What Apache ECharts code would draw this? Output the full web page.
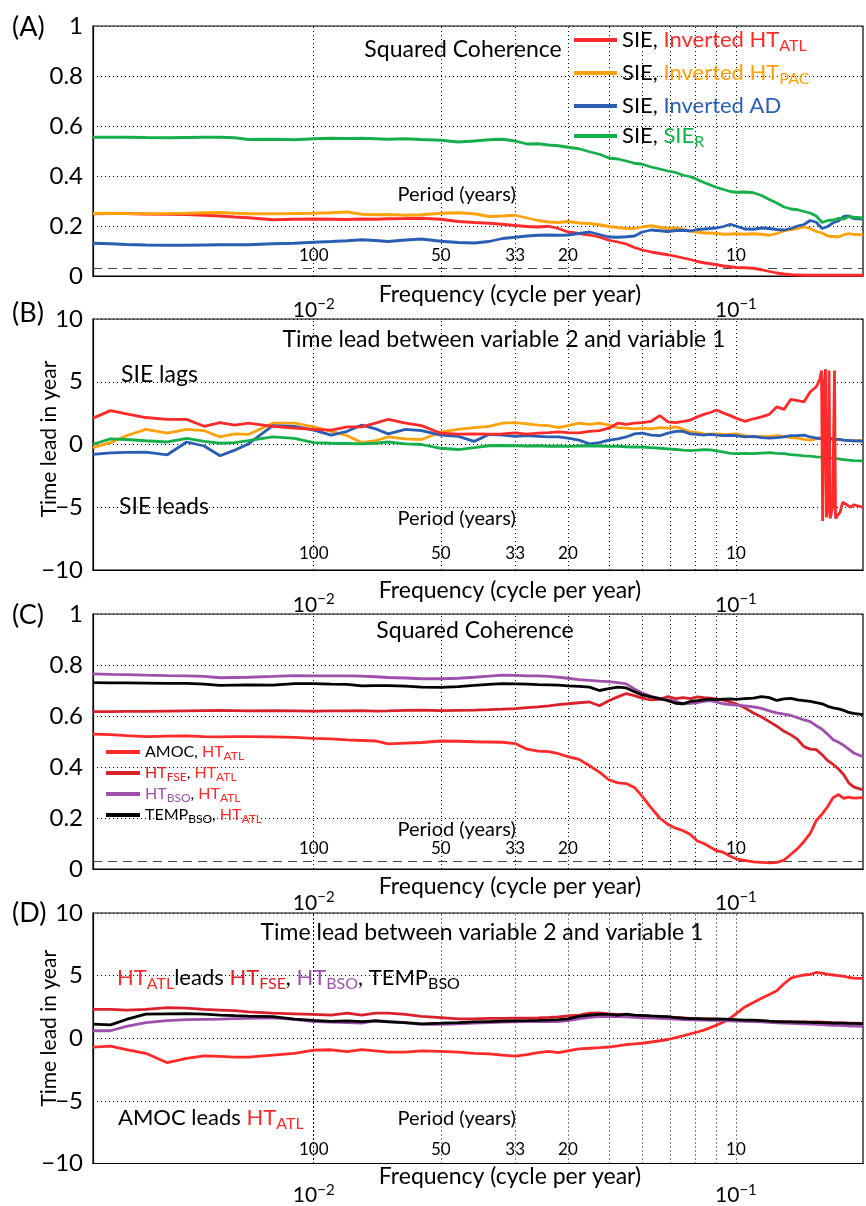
<!DOCTYPE html>
<html>
<head>
<meta charset="utf-8">
<script src="https://cdn.jsdelivr.net/npm/echarts@6/dist/echarts.min.js"></script>
<style>
html, body { margin: 0; padding: 0; background: #fff; }
#main { width: 866px; height: 1206px; }
</style>
</head>
<body>
<div id="main"></div>
<script>
// frequency (cycle per year), shared by all panels
var freq = [
  0.0030, 0.0033, 0.0036, 0.0040, 0.0045, 0.0050, 0.0055, 0.0060, 0.0065, 0.0070,
  0.0080, 0.0090, 0.0100, 0.0110, 0.0120, 0.0130, 0.0140, 0.0150, 0.0165, 0.0180,
  0.0200, 0.0220, 0.0240, 0.0260, 0.0280, 0.0300, 0.0320, 0.0340, 0.0360, 0.0380,
  0.0400, 0.0425, 0.0450, 0.0475, 0.0500, 0.0525, 0.0550, 0.0575, 0.0600, 0.0630,
  0.0660, 0.0690, 0.0720, 0.0750, 0.0780, 0.0810, 0.0840, 0.0870, 0.0900, 0.0935,
  0.0970, 0.1000, 0.1050, 0.1100, 0.1150, 0.1200, 0.1250, 0.1300, 0.1350, 0.1400,
  0.1450, 0.1500, 0.1550, 0.1600, 0.1650, 0.1700, 0.1750, 0.1800, 0.1850, 0.1900,
  0.2000
];

// (A) squared coherence
var cohHtAtl = [
  .249, .250, .250, .248, .247, .246, .243, .240, .236, .233,
  .225, .227, .228, .227, .226, .228, .227, .229, .230, .231,
  .227, .218, .214, .211, .207, .202, .198, .196, .199, .190,
  .176, .170, .164, .156, .143, .136, .128, .114, .104, .096,
  .090, .085, .079, .072, .066, .058, .053, .049, .045, .040,
  .037, .034, .033, .031, .025, .018, .012, .008, .005, .004,
  .003, .003, .003, .003, .003, .003, .003, .003, .003, .003,
  .003
];
var cohHtPac = [
  .250, .251, .250, .249, .250, .251, .253, .254, .251, .249,
  .249, .250, .251, .253, .256, .247, .245, .246, .243, .245,
  .251, .253, .249, .238, .240, .243, .232, .222, .216, .214,
  .218, .212, .210, .205, .198, .194, .190, .190, .196, .201,
  .195, .190, .192, .187, .180, .176, .172, .172, .170, .167,
  .168, .169, .167, .169, .167, .163, .170, .180, .186, .190,
  .196, .190, .178, .172, .160, .158, .156, .165, .170, .166,
  .165
];
var cohAd = [
  .131, .129, .126, .124, .123, .123, .124, .125, .125, .125,
  .129, .131, .135, .138, .141, .145, .142, .138, .144, .148,
  .139, .134, .132, .138, .150, .155, .160, .163, .164, .163,
  .164, .170, .176, .166, .156, .155, .157, .160, .176, .184,
  .181, .178, .182, .183, .180, .186, .188, .190, .192, .198,
  .207, .200, .188, .187, .192, .190, .186, .184, .190, .200,
  .206, .222, .215, .190, .198, .213, .220, .238, .240, .230,
  .228
];
var cohSieR = [
  .555, .555, .555, .554, .553, .554, .555, .555, .553, .546,
  .547, .545, .549, .551, .550, .551, .549, .547, .549, .546,
  .543, .536, .540, .545, .547, .540, .528, .529, .524, .521,
  .515, .509, .497, .487, .472, .468, .460, .451, .447, .436,
  .428, .420, .414, .403, .397, .386, .374, .364, .354, .346,
  .338, .335, .336, .333, .322, .306, .292, .276, .268, .265,
  .258, .252, .240, .214, .222, .224, .231, .228, .238, .235,
  .232
];

// (B) time lead, years
var leadHtAtl = [
  2.1, 2.7, 2.45, 2.15, 2.0, 2.0, 1.45, 1.75, 1.55, 1.7,
  1.45, 1.3, 1.2, 1.15, 1.4, 1.4, 1.7, 2.0, 1.7, 1.5,
  0.9, 0.82, 0.84, 0.82, 0.85, 0.92, 0.82, 0.9, 0.95, 1.0,
  0.95, 0.92, 1.05, 1.1, 1.3, 1.7, 1.6, 1.7, 1.75, 1.85,
  2.3, 1.8, 1.75, 1.85, 1.95, 2.2, 2.4, 2.55, 2.75, 2.5,
  2.3, 2.1, 1.85, 2.05, 2.2, 2.4, 3.0, 2.8, 3.6, 3.5,
  3.4, 4.2, 4.6
];
// phase wrapping at the high-frequency end
var leadHtAtlTailFreq = [0.158, 0.1595, 0.1605, 0.1618, 0.163, 0.1638, 0.1652, 0.1662, 0.1672, 0.1695,
  0.1712, 0.1722, 0.1745, 0.1765, 0.179, 0.183, 0.187, 0.19, 0.2];
var leadHtAtlTail = [5.2, 5.9, -6.1, 4.8, 6.0, -5.8, -5.0, 5.9, -5.9, -5.0,
  5.9, -5.9, -5.6, -5.4, -4.6, -4.8, -5.0, -4.8, -5.0];
var leadHtPac = [
  -0.25, 0.15, 0.7, 1.2, 0.9, 1.2, 1.1, 0.6, 0.85, 0.8,
  1.7, 1.7, 1.4, 1.05, 0.7, 0.15, 0.3, 0.6, 0.45, 0.4,
  1.0, 1.2, 1.35, 1.45, 1.7, 1.75, 1.65, 1.55, 1.5, 1.35,
  1.5, 1.7, 1.6, 1.7, 1.55, 1.35, 1.3, 1.25, 1.3, 1.25,
  1.35, 1.3, 1.4, 1.2, 1.0, 0.95, 0.85, 0.82, 0.85, 0.8,
  0.82, 0.85, 0.7, 0.6, 0.65, 0.62, 0.7, 0.65, 0.55, 0.5,
  0.4, 0.35, 0.45, 0.5, 0.45, 0.4, 0.4, 0.35, 0.32, 0.3,
  0.3
];
var leadAd = [
  -0.78, -0.67, -0.62, -0.6, -0.82, 0.2, -0.12, -0.9, -0.45, 0.05,
  1.5, 1.45, 1.15, 0.75, 1.05, 1.55, 1.25, 0.85, 1.2, 1.1,
  0.75, 0.65, 0.25, 0.8, 0.75, 0.65, 0.7, 0.65, 0.6, 0.6,
  0.5, 0.35, 0.05, 0.15, 0.35, 0.45, 0.6, 0.85, 0.9, 0.75,
  0.7, 0.9, 1.05, 1.05, 0.85, 0.8, 0.75, 0.8, 0.75, 0.7,
  0.72, 0.7, 0.6, 0.65, 0.55, 0.5, 0.55, 0.6, 0.7, 0.7,
  0.75, 0.6, 0.5, 0.5, 0.5, 0.45, 0.4, 0.35, 0.32, 0.3,
  0.28
];
var leadSieR = [
  0.02, 0.45, 0.4, 0.3, 0.2, 0.48, 0.25, 0.1, 0.15, 0.3,
  0.6, 0.48, 0.15, 0.1, 0.08, 0.05, 0.1, 0.2, 0.05, 0.0,
  -0.3, -0.4, -0.25, -0.1, -0.08, -0.1, -0.12, -0.1, -0.14, -0.12,
  -0.15, -0.12, -0.1, -0.12, -0.15, -0.14, -0.18, -0.2, -0.2, -0.25,
  -0.3, -0.35, -0.4, -0.45, -0.48, -0.45, -0.42, -0.43, -0.5, -0.6,
  -0.7, -0.72, -0.7, -0.72, -0.68, -0.65, -0.7, -0.72, -0.8, -0.85,
  -0.9, -0.92, -0.98, -1.0, -1.05, -1.1, -1.15, -1.2, -1.25, -1.28,
  -1.3
];

// (C) squared coherence with HT_ATL
var cohAmoc = [
  .529, .527, .523, .519, .521, .522, .519, .518, .519, .519,
  .518, .516, .512, .510, .506, .504, .502, .491, .494, .496,
  .502, .501, .499, .498, .497, .492, .470, .462, .460, .452,
  .441, .430, .405, .380, .350, .338, .335, .320, .285, .240,
  .200, .175, .160, .150, .135, .110, .100, .085, .072, .065,
  .050, .040, .034, .028, .026, .024, .026, .035, .058, .080,
  .108, .140, .190, .215, .245, .280, .292, .277, .282, .278,
  .280
];
var cohFse = [
  .617, .617, .618, .618, .619, .620, .621, .622, .621, .620,
  .621, .620, .619, .620, .620, .621, .619, .620, .622, .623,
  .621, .622, .623, .625, .627, .629, .633, .636, .640, .645,
  .648, .652, .655, .640, .660, .675, .688, .680, .670, .663,
  .665, .676, .668, .672, .668, .675, .672, .670, .667, .662,
  .655, .648, .632, .612, .596, .578, .560, .540, .526, .508,
  .480, .470, .468, .448, .425, .410, .392, .370, .338, .322,
  .310
];
var cohBso = [
  .765, .763, .762, .760, .758, .757, .755, .750, .751, .752,
  .755, .758, .757, .757, .757, .756, .754, .751, .749, .746,
  .746, .748, .752, .756, .760, .759, .757, .757, .755, .752,
  .748, .743, .740, .737, .735, .731, .726, .706, .690, .677,
  .668, .663, .658, .648, .650, .652, .657, .660, .654, .648,
  .645, .643, .640, .636, .630, .620, .612, .607, .602, .593,
  .585, .578, .562, .548, .528, .507, .497, .485, .470, .455,
  .440
];
var cohTemp = [
  .731, .730, .730, .729, .728, .728, .725, .720, .721, .722,
  .721, .727, .727, .725, .724, .718, .719, .719, .717, .713,
  .712, .715, .720, .724, .727, .726, .725, .723, .722, .721,
  .718, .716, .713, .700, .707, .713, .710, .695, .683, .675,
  .668, .660, .650, .648, .657, .660, .663, .666, .664, .666,
  .667, .665, .668, .670, .676, .672, .661, .667, .669, .663,
  .660, .657, .652, .648, .638, .632, .628, .622, .614, .610,
  .605
];

// (D) time lead with HT_ATL
var leadAmoc = [
  -0.71, -0.63, -0.9, -1.2, -1.95, -1.6, -1.4, -1.45, -1.5, -1.5,
  -1.35, -1.2, -0.95, -0.92, -1.06, -0.9, -1.0, -1.1, -1.1, -1.0,
  -1.05, -1.1, -1.2, -1.24, -1.35, -1.42, -1.3, -1.15, -1.05, -1.15,
  -1.0, -0.85, -0.8, -0.75, -0.7, -0.6, -0.5, -0.45, -0.4, -0.3,
  -0.2, -0.1, 0.05, 0.2, 0.35, 0.5, 0.65, 0.85, 1.05, 1.3,
  1.6, 1.95, 2.5, 2.85, 3.2, 3.5, 3.8, 4.35, 4.8, 4.95,
  5.05, 5.1, 5.25, 5.2, 5.1, 5.05, 5.0, 4.95, 4.85, 4.8,
  4.78
];
var leadFse = [
  2.3, 2.3, 2.25, 2.3, 2.45, 2.4, 2.3, 2.25, 2.2, 2.1,
  2.0, 1.95, 1.9, 1.85, 2.0, 1.85, 2.0, 2.0, 1.9, 1.75,
  1.65, 1.55, 1.55, 1.58, 1.58, 1.6, 1.6, 1.62, 1.66, 1.7,
  1.78, 1.85, 2.0, 2.02, 1.95, 1.9, 1.85, 1.8, 1.78, 1.75,
  1.72, 1.68, 1.66, 1.62, 1.58, 1.56, 1.55, 1.54, 1.52, 1.5,
  1.48, 1.45, 1.43, 1.4, 1.38, 1.35, 1.33, 1.32, 1.31, 1.3,
  1.3, 1.28, 1.3, 1.28, 1.26, 1.24, 1.23, 1.22, 1.2, 1.2,
  1.18
];
var leadBso = [
  0.6, 0.6, 0.95, 1.25, 1.4, 1.48, 1.5, 1.52, 1.56, 1.58,
  1.62, 1.5, 1.32, 1.28, 1.25, 1.21, 1.4, 1.35, 1.22, 1.1,
  1.1, 1.15, 1.2, 1.24, 1.28, 1.3, 1.32, 1.32, 1.33, 1.32,
  1.4, 1.55, 1.66, 1.72, 1.74, 1.72, 1.7, 1.66, 1.62, 1.6,
  1.58, 1.55, 1.52, 1.48, 1.46, 1.45, 1.44, 1.43, 1.42, 1.4,
  1.38, 1.36, 1.34, 1.32, 1.3, 1.26, 1.22, 1.2, 1.18, 1.16,
  1.14, 1.12, 1.1, 1.08, 1.05, 1.03, 1.02, 1.0, 0.98, 0.97,
  0.96
];
var leadTemp = [
  1.13, 1.07, 1.5, 1.92, 1.95, 1.96, 1.92, 1.85, 1.8, 1.76,
  1.72, 1.52, 1.42, 1.35, 1.38, 1.32, 1.38, 1.3, 1.25, 1.15,
  1.2, 1.25, 1.3, 1.33, 1.36, 1.38, 1.4, 1.42, 1.45, 1.48,
  1.55, 1.75, 1.85, 1.9, 1.9, 1.85, 1.92, 1.85, 1.82, 1.78,
  1.75, 1.72, 1.65, 1.6, 1.57, 1.56, 1.55, 1.53, 1.55, 1.53,
  1.5, 1.48, 1.45, 1.44, 1.4, 1.36, 1.33, 1.3, 1.3, 1.29,
  1.28, 1.27, 1.25, 1.24, 1.22, 1.2, 1.2, 1.2, 1.19, 1.18,
  1.17
];

// grid lines and period labels
var gridFreq = [0.004, 0.005, 0.006, 0.007, 0.008, 0.009, 0.01, 0.02, 0.03, 0.04, 0.05, 0.06, 0.07, 0.08, 0.09, 0.1];
var periodFreq = [0.01, 0.02, 0.03, 0.04, 0.1];
var periodText = ['100', '50', '33', '20', '10'];
var periodY = [0.08, -8.7, 0.08, -8.87];
var periodTitleY = [0.324, -5.9, 0.154, -6.4];
var cohLevel = 0.027;

var FONT = 'Lato';
var RED = '#ff2a2a', ORANGE = '#ffa10a', BLUE = '#2a5eb2', GREEN = '#14af4a';
var DRED = '#d8212b', PURPLE = '#9f50ad', BLACK = '#000';

function pairs(xs, ys) {
  return xs.map(function (x, i) { return [x, ys[i]]; });
}

// rich text styles: main / subscript for each colour; colourKey is 'color' for
// component labels and 'fill' for graphic elements
function rich(size, sub, lh, slh, colourKey) {
  var s = {};
  var cols = { k: BLACK, r: RED, o: ORANGE, b: BLUE, g: GREEN, d: DRED, p: PURPLE };
  Object.keys(cols).forEach(function (key) {
    s[key] = { fontSize: size, fontFamily: FONT, lineHeight: lh };
    s[key + 's'] = { fontSize: sub, fontFamily: FONT, lineHeight: slh, verticalAlign: 'bottom' };
    s[key][colourKey] = cols[key];
    s[key + 's'][colourKey] = cols[key];
  });
  return s;
}

var legendA = {
  'SIE, Inverted HT_ATL': '{k|SIE, }{r|Inverted HT}{rs|ATL}',
  'SIE, Inverted HT_PAC': '{k|SIE, }{o|Inverted HT}{os|PAC}',
  'SIE, Inverted AD': '{k|SIE, }{b|Inverted AD}',
  'SIE, SIE_R': '{k|SIE, }{g|SIE}{gs|R}'
};
var legendC = {
  'AMOC, HT_ATL': '{k|AMOC, }{r|HT}{rs|ATL}',
  'HT_FSE, HT_ATL': '{d|HT}{ds|FSE}{k|, }{r|HT}{rs|ATL}',
  'HT_BSO, HT_ATL': '{p|HT}{ps|BSO}{k|, }{r|HT}{rs|ATL}',
  'TEMP_BSO, HT_ATL': '{k|TEMP}{ks|BSO}{k|, }{r|HT}{rs|ATL}'
};

var grids = [
  { left: 93, top: 26, width: 785, height: 250 },
  { left: 93, top: 319, width: 785, height: 251 },
  { left: 93, top: 614, width: 785, height: 255 },
  { left: 93, top: 913, width: 785, height: 254 }
];
grids.forEach(function (g) {
  g.show = true; g.borderColor = '#000'; g.borderWidth = 1.2; g.backgroundColor = 'transparent';
});

var nameGaps = [7, 9, 6, 2];
var labelMargins = [21, 22, 21, 19];

var xAxes = grids.map(function (g, i) {
  return {
    type: 'log', logBase: 10, gridIndex: i, min: 0.003, max: 0.2,
    name: 'Frequency (cycle per year)', nameLocation: 'middle', nameGap: nameGaps[i],
    nameMoveOverlap: false,
    nameTextStyle: { fontFamily: FONT, fontSize: 23, color: '#000', padding: [0, 0, 0, 64] },
    axisLine: { onZero: false, lineStyle: { color: '#000', width: 1.2 } },
    axisTick: { show: false },
    splitLine: { show: false },
    minorTick: { show: false },
    axisLabel: {
      margin: labelMargins[i],
      showMinLabel: true, showMaxLabel: true,
      formatter: function (v) {
        var e = Math.log10(v);
        if (Math.abs(e + 2) < 1e-6) return '{b|10}{s|\u22122}';
        if (Math.abs(e + 1) < 1e-6) return '{b|10}{s|\u22121}';
        return '';
      },
      rich: {
        b: { fontFamily: FONT, fontSize: 21, lineHeight: 26, color: '#000' },
        s: { fontFamily: FONT, fontSize: 15, lineHeight: 14, color: '#000', verticalAlign: 'top' }
      }
    }
  };
});

var dotted = { color: '#000', type: [1, 3], width: 1 };

var yAxes = grids.map(function (g, i) {
  var coh = (i % 2 === 0);
  var ax = {
    type: 'value', gridIndex: i,
    min: coh ? 0 : -10, max: coh ? 1 : 10, interval: coh ? 0.2 : 5,
    axisLine: { show: true, onZero: false, lineStyle: { color: '#000', width: 1.2 } },
    axisTick: { show: false },
    splitLine: { show: true, lineStyle: dotted },
    axisLabel: {
      fontFamily: FONT, fontSize: 24, color: '#000', margin: 10,
      formatter: function (v) { return String(v).replace('-', '\u2212'); }
    }
  };
  if (!coh) {
    ax.name = 'Time lead in year';
    ax.nameLocation = 'middle';
    ax.nameRotate = 90;
    ax.nameGap = 33;
    ax.nameMoveOverlap = false;
    ax.nameTextStyle = { fontFamily: FONT, fontSize: 21, color: '#000', padding: [0, 0, 0, i === 1 ? 11 : 20] };
  }
  return ax;
});

function line(name, color, xs, ys, g) {
  return {
    name: name, type: 'line', xAxisIndex: g, yAxisIndex: g,
    data: pairs(xs, ys), showSymbol: false, symbol: 'none', silent: true, z: 3,
    lineStyle: { color: color, width: 2.8 }, itemStyle: { color: color }
  };
}

function guides(g) {
  var ml = gridFreq.map(function (f) { return { xAxis: f }; });
  if (g % 2 === 0) {
    ml.push({ yAxis: cohLevel, lineStyle: { color: '#444', type: [9, 6], width: 1.2 } });
  }
  var pts = periodFreq.map(function (f, i) { return { value: [f, periodY[g]], name: periodText[i] }; });
  pts.push({ value: [0.0218, periodTitleY[g]], name: 'Period (years)', label: { fontSize: 20 } });
  return {
    type: 'scatter', xAxisIndex: g, yAxisIndex: g, silent: true, z: 4,
    symbol: 'circle', symbolSize: 0, itemStyle: { color: '#000' },
    data: pts,
    label: {
      show: true, position: 'inside', color: '#000', fontFamily: FONT, fontSize: 17,
      textBorderWidth: 0, opacity: 1,
      formatter: function (p) { return p.name; }
    },
    markLine: {
      silent: true, symbol: ['none', 'none'], label: { show: false }, z: 1,
      lineStyle: dotted, data: ml
    }
  };
}

var freqB = freq.slice(0, leadHtAtl.length).concat(leadHtAtlTailFreq);
var valsB = leadHtAtl.concat(leadHtAtlTail);

var series = [
  guides(0), guides(1), guides(2), guides(3),
  line('SIE, Inverted HT_ATL', RED, freq, cohHtAtl, 0),
  line('SIE, Inverted HT_PAC', ORANGE, freq, cohHtPac, 0),
  line('SIE, Inverted AD', BLUE, freq, cohAd, 0),
  line('SIE, SIE_R', GREEN, freq, cohSieR, 0),
  line('SIE, Inverted HT_PAC', ORANGE, freq, leadHtPac, 1),
  line('SIE, Inverted AD', BLUE, freq, leadAd, 1),
  line('SIE, SIE_R', GREEN, freq, leadSieR, 1),
  line('SIE, Inverted HT_ATL', RED, freqB, valsB, 1),
  line('AMOC, HT_ATL', RED, freq, cohAmoc, 2),
  line('HT_FSE, HT_ATL', DRED, freq, cohFse, 2),
  line('HT_BSO, HT_ATL', PURPLE, freq, cohBso, 2),
  line('TEMP_BSO, HT_ATL', BLACK, freq, cohTemp, 2),
  line('AMOC, HT_ATL', RED, freq, leadAmoc, 3),
  line('HT_FSE, HT_ATL', DRED, freq, leadFse, 3),
  line('HT_BSO, HT_ATL', PURPLE, freq, leadBso, 3),
  line('TEMP_BSO, HT_ATL', BLACK, freq, leadTemp, 3)
];

function txt(x, y, text, size, align, richStyle) {
  return {
    type: 'text', x: x, y: y, silent: true, z: 10,
    style: {
      text: text, fontFamily: FONT, fontSize: size, fill: '#000',
      textAlign: align || 'left', textVerticalAlign: 'middle', rich: richStyle
    }
  };
}
var richD = rich(22, 16, 28, 16, 'fill');

var graphics = [
  txt(12, 27, '(A)', 27), txt(12, 313, '(B)', 27), txt(12, 615, '(C)', 27), txt(12, 913, '(D)', 27),
  txt(463, 50, 'Squared Coherence', 23, 'center'),
  txt(475, 631, 'Squared Coherence', 23, 'center'),
  txt(504, 340, 'Time lead between variable 2 and variable 1', 23, 'center'),
  txt(482, 933, 'Time lead between variable 2 and variable 1', 23, 'center'),
  txt(121, 375, 'SIE lags', 23), txt(119, 507, 'SIE leads', 23),
  txt(117, 978, '{r|HT}{rs|ATL}{k|leads }{d|HT}{ds|FSE}{k|, }{p|HT}{ps|BSO}{k|, TEMP}{ks|BSO}', 22, 'left', richD),
  txt(118, 1118, '{k|AMOC leads }{r|HT}{rs|ATL}', 22, 'left', richD)
];

var chart = echarts.init(document.getElementById('main'));
chart.setOption({
  animation: false,
  backgroundColor: '#fff',
  grid: grids,
  xAxis: xAxes,
  yAxis: yAxes,
  legend: [{
    data: Object.keys(legendA), orient: 'vertical', left: 574, top: 29, padding: 0,
    icon: 'rect', itemWidth: 43, itemHeight: 4, itemGap: 8, selectedMode: false,
    formatter: function (n) { return legendA[n]; },
    textStyle: { rich: rich(22, 16, 28, 16, 'color') }
  }, {
    data: Object.keys(legendC), orient: 'vertical', left: 106, top: 744, padding: 0,
    icon: 'rect', itemWidth: 34, itemHeight: 4, itemGap: 3, selectedMode: false,
    formatter: function (n) { return legendC[n]; },
    textStyle: { rich: rich(16, 12, 20, 12, 'color') }
  }],
  graphic: graphics,
  series: series
});
</script>
</body>
</html>
